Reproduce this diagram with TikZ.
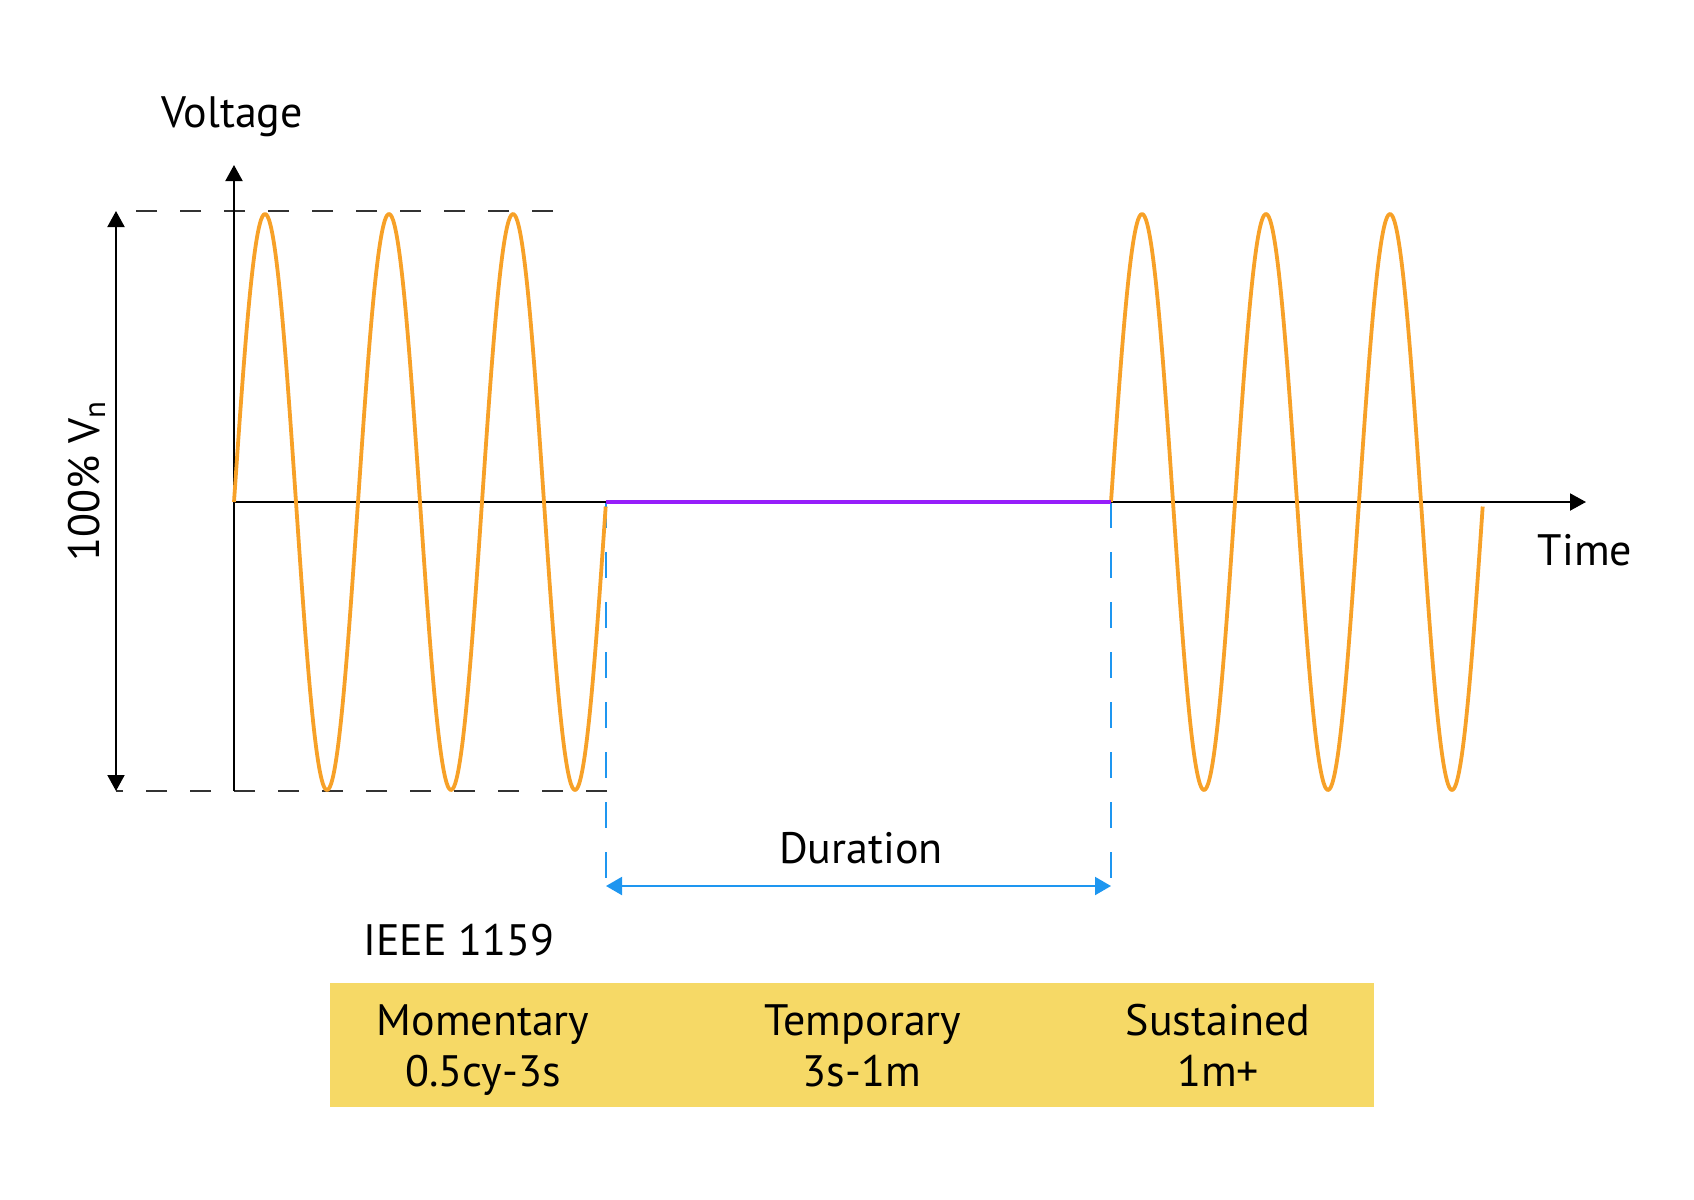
\documentclass[tikz,border=0pt]{standalone}
\usepackage{fontspec}
\setmainfont{PT Sans}
\usetikzlibrary{arrows.meta}
\definecolor{wave}{RGB}{247,161,40}
\definecolor{sag}{RGB}{150,30,250}
\definecolor{dur}{RGB}{30,150,240}
\definecolor{band}{RGB}{246,217,102}
\tikzset{
  lbl/.style={inner sep=0pt, anchor=base, font=\fontsize{22}{26}\selectfont},
  axisline/.style={line width=1pt, black},
  guide/.style={line width=1pt, black!80, dash pattern=on 10.5pt off 11.5pt},
  durguide/.style={line width=1pt, dur, dash pattern=on 13pt off 12pt},
  wavestyle/.style={line width=1.9pt, wave, line join=round},
  tip/.style={-{Triangle[width=8.5pt,length=8pt]}},
  dtip/.style={{Triangle[width=8.5pt,length=8pt]}-{Triangle[width=8.5pt,length=8pt]}},
}
\begin{document}
\begin{tikzpicture}[x=0.5pt,y=-0.5pt]
\useasboundingbox (0,0) rectangle (1694,1200);
% coordinates
\coordinate (O) at (234,502);
\coordinate (vtop) at (234,165);
\coordinate (vbot) at (234,791);
\coordinate (hend) at (1586,502);
\coordinate (tdl) at (116,211);
\coordinate (tdr) at (553,211);
\coordinate (bdl) at (116,791);
\coordinate (bdr) at (607,791);
\coordinate (s1) at (606,502);
\coordinate (s2) at (1111,502);
\coordinate (s1b) at (606,895);
\coordinate (s2b) at (1111,895);
\coordinate (d1) at (606,886);
\coordinate (d2) at (1111,886);
% guides
\draw[guide] (tdr) -- (tdl);
\draw[guide] (bdr) -- (bdl);
\draw[durguide] (s1) -- (s1b);
\draw[durguide] (s2) -- (s2b);
% axes
\draw[axisline] (vbot) -- (O);
\draw[axisline, tip] (O) -- (vtop);
\draw[axisline, tip] (O) -- (hend);
% amplitude arrow
\draw[line width=1pt, dtip] (tdl) -- (bdl);
% waves
\draw[wavestyle] plot[domain=0:3, samples=300, smooth] ({234+124*\x}, {502-288*sin(360*\x)});
\draw[wavestyle] plot[domain=0:3, samples=300, smooth] ({1111+124*\x}, {502-288*sin(360*\x)});
\draw[line width=2.2pt, sag] (s1) -- (s2);
% duration arrow
\draw[line width=1pt, dur, {Triangle[width=9pt,length=8pt]}-{Triangle[width=9pt,length=8pt]}] (d1) -- (d2);
% labels
\node[lbl] (volt) at (232,127.5) {Voltage};
\node[lbl] (time) at (1585,565) {Time};
\node[lbl, rotate=90] (vn) at (99,481) {100\% V\textsubscript{n}};
\node[lbl] (duration) at (861,863) {Duration};
\node[lbl, anchor=base west] (ieee) at (363,955) {IEEE 1159};
% band
\fill[band] (330,983) rectangle (1374,1107);
\node[lbl] (mom) at (483,1035) {Momentary};
\node[lbl] (mom2) at (483,1086) {0.5cy-3s};
\node[lbl] (tem) at (863,1035) {Temporary};
\node[lbl] (tem2) at (862,1086) {3s-1m};
\node[lbl] (sus) at (1218,1035) {Sustained};
\node[lbl] (sus2) at (1218,1086) {1m+};
\end{tikzpicture}
\end{document}
